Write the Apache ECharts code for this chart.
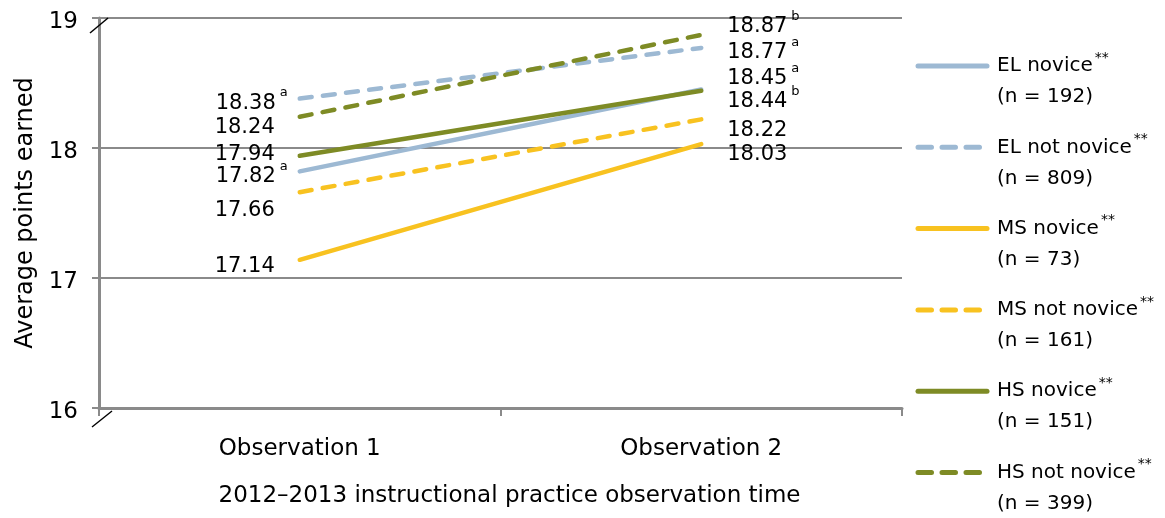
<!DOCTYPE html>
<html><head><meta charset="utf-8">
<script src="https://cdn.jsdelivr.net/npm/echarts@6/dist/echarts.min.js"></script>
<style>html,body{margin:0;padding:0;background:#fff}#c{width:1165px;height:518px}</style>
</head><body><div id="c"></div>
<script>
// ---- data ----
const categories = ['Observation 1', 'Observation 2'];
const seriesNames = ['EL novice', 'EL not novice', 'MS novice', 'MS not novice', 'HS novice', 'HS not novice'];
const sampleSizes = [192, 809, 73, 161, 151, 399];
const elNovice = [17.82, 18.45];
const elNotNovice = [18.38, 18.77];
const msNovice = [17.14, 18.03];
const msNotNovice = [17.66, 18.22];
const hsNovice = [17.94, 18.44];
const hsNotNovice = [18.24, 18.87];
const elNoviceNotes = ['a', 'a'];
const elNotNoviceNotes = ['a', 'a'];
const msNoviceNotes = ['', ''];
const msNotNoviceNotes = ['', ''];
const hsNoviceNotes = ['', 'b'];
const hsNotNoviceNotes = ['', 'b'];
const yTickValues = [16, 17, 18, 19];

const allValues = [elNovice, elNotNovice, msNovice, msNotNovice, hsNovice, hsNotNovice];
const allNotes = [elNoviceNotes, elNotNoviceNotes, msNoviceNotes, msNotNoviceNotes, hsNoviceNotes, hsNotNoviceNotes];

// ---- styles ----
const FONT = 'DejaVu Sans';
const BLUE = '#9db9d3', YELLOW = '#f8c220', OLIVE = '#7e8b25';
const GRAY = '#8a8a8a';
const colors = [BLUE, BLUE, YELLOW, YELLOW, OLIVE, OLIVE];
const dashed = [false, true, false, true, false, true];
// vertical nudges of value labels (px) at [Observation 1, Observation 2]
const labelNudge = [[5.5, -10.5], [4.5, 4.5], [6.5, 10], [18.5, 11.5], [-1.5, 10.5], [10.5, -8.5]];

const labelRich = {
  n: { fontFamily: FONT, fontSize: 21, color: '#000' },
  s: { fontFamily: FONT, fontSize: 13, color: '#000', padding: [0, 0, 20, 4] }
};

const series = seriesNames.map((name, si) => ({
  name: name,
  type: 'line',
  symbol: 'circle',
  symbolSize: 0.01,
  showSymbol: true,
  z: 2 + si,
  lineStyle: { color: colors[si], width: 4.5, cap: 'round', type: dashed[si] ? [12, 11.3] : 'solid' },
  itemStyle: { color: colors[si] },
  emphasis: { disabled: true },
  data: allValues[si].map((v, di) => {
    const note = allNotes[si][di];
    const left = di === 0;
    return {
      value: v,
      label: {
        show: true,
        position: left ? 'left' : 'right',
        distance: left ? (note ? 12 : 25) : 26,
        offset: [0, labelNudge[si][di]],
        formatter: '{n|' + v.toFixed(2) + '}' + (note ? '{s|' + note + '}' : ''),
        rich: labelRich
      }
    };
  })
}));

const legendData = seriesNames.map((name, si) => dashed[si]
  ? { name: name, lineStyle: { type: [13.5, 10.5], width: 5, cap: 'round', color: colors[si] } }
  : { name: name, lineStyle: { type: 'solid', width: 5, cap: 'round', color: colors[si] } });

const chart = echarts.init(document.getElementById('c'), null, { renderer: 'canvas' });
chart.setOption({
  animation: false,
  backgroundColor: '#fff',
  grid: { left: 99, right: 263, top: 18, bottom: 110, containLabel: false, outerBoundsMode: 'none' },
  xAxis: {
    type: 'category',
    data: categories,
    boundaryGap: true,
    axisLine: { lineStyle: { color: GRAY, width: 3 } },
    axisTick: { show: true, length: 8, lineStyle: { color: GRAY, width: 2 } },
    axisLabel: { fontFamily: FONT, fontSize: 23, color: '#000', margin: 30 },
    name: '2012\u20132013 instructional practice observation time',
    nameLocation: 'middle',
    nameGap: 77,
    nameTextStyle: { fontFamily: FONT, fontSize: 23, color: '#000', padding: [0, 0, 0, 18] }
  },
  yAxis: {
    type: 'value',
    min: yTickValues[0],
    max: yTickValues[yTickValues.length - 1],
    interval: 1,
    axisLine: { show: true, lineStyle: { color: GRAY, width: 3 } },
    axisTick: { show: true, length: 7, lineStyle: { color: GRAY, width: 2 } },
    splitLine: { show: true, lineStyle: { color: GRAY, width: 2 } },
    axisLabel: {
      fontFamily: FONT, fontSize: 23, color: '#000', margin: 21,
      formatter: '{v|{value}}',
      rich: { v: { fontFamily: FONT, fontSize: 23, color: '#000', padding: [8, 0, 0, 0] } }
    },
    name: 'Average points earned',
    nameLocation: 'middle',
    nameGap: 60,
    nameTextStyle: { fontFamily: FONT, fontSize: 24, color: '#000' }
  },
  legend: {
    orient: 'vertical',
    left: 915.5,
    top: 19.5,
    height: 520,
    padding: 0,
    itemGap: -11.7,
    itemWidth: 69,
    itemHeight: 2,
    selectedMode: false,
    itemStyle: { opacity: 0, borderWidth: 0 },
    data: legendData,
    formatter: function (name) {
      const i = seriesNames.indexOf(name);
      return '\n{t|' + name + '}{s|**}\n{t|(n = ' + sampleSizes[i] + ')}';
    },
    textStyle: {
      fontFamily: FONT, fontSize: 20, color: '#000', lineHeight: 31,
      rich: {
        t: { fontFamily: FONT, fontSize: 20, color: '#000', lineHeight: 31, padding: [0, 0, 0, 5] },
        s: { fontFamily: FONT, fontSize: 14, color: '#000', padding: [0, 0, 16, 2] }
      }
    }
  },
  series: series
});

// axis-break marks on the value axis
const rect = chart.getModel().getComponent('grid').coordinateSystem.getRect();
const yTop = chart.convertToPixel({ yAxisIndex: 0 }, yTickValues[yTickValues.length - 1]);
const yBot = chart.convertToPixel({ yAxisIndex: 0 }, yTickValues[0]);
const ax = rect.x;
chart.setOption({
  graphic: [
    { type: 'line', z: 100, shape: { x1: ax - 9, y1: yTop + 15, x2: ax + 9, y2: yTop }, style: { stroke: '#000', lineWidth: 1.5 } },
    { type: 'line', z: 100, shape: { x1: ax - 7, y1: yBot + 19, x2: ax + 13, y2: yBot + 3 }, style: { stroke: '#000', lineWidth: 1.5 } }
  ]
});
</script>
</body></html>
